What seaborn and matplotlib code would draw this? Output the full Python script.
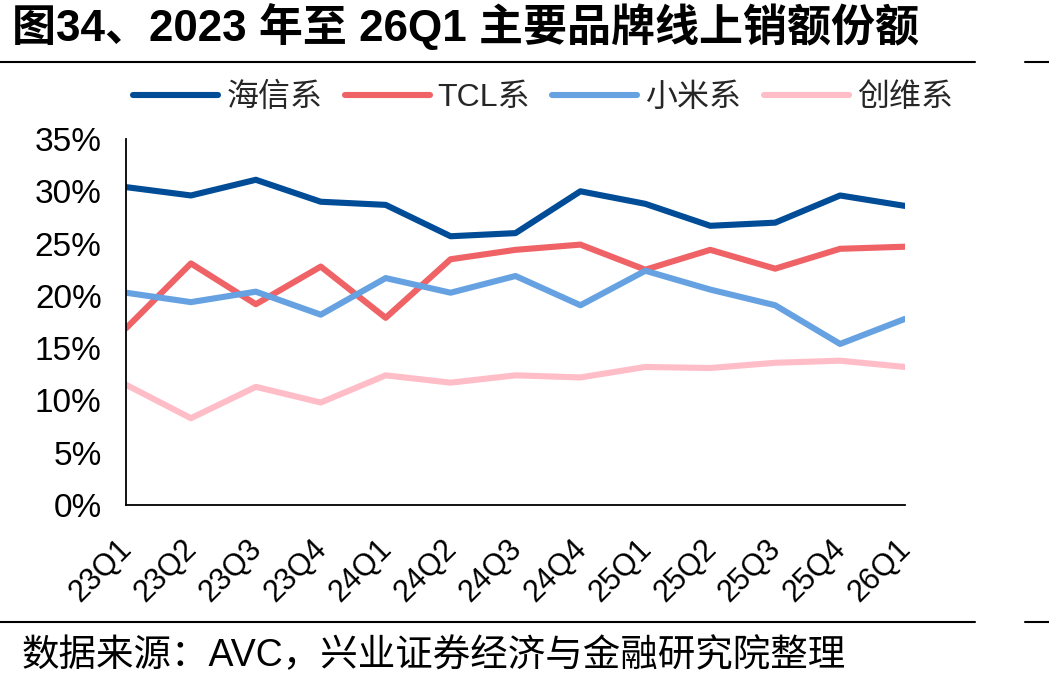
import matplotlib
matplotlib.use("Agg")
import matplotlib.pyplot as plt
import matplotlib.transforms as mtransforms
import seaborn as sns
import pandas as pd
import numpy as np
from matplotlib.ticker import PercentFormatter
from matplotlib.lines import Line2D

quarters = ["23Q1", "23Q2", "23Q3", "23Q4", "24Q1", "24Q2", "24Q3", "24Q4",
            "25Q1", "25Q2", "25Q3", "25Q4", "26Q1"]
hisense = [30.4, 29.6, 31.1, 29.0, 28.7, 25.7, 26.0, 30.0, 28.8, 26.7, 27.0, 29.6, 28.6]
tcl = [16.9, 23.1, 19.2, 22.8, 17.9, 23.5, 24.4, 24.9, 22.5, 24.4, 22.6, 24.5, 24.7]
xiaomi = [20.3, 19.4, 20.4, 18.2, 21.7, 20.3, 21.9, 19.1, 22.4, 20.6, 19.1, 15.4, 17.8]
skyworth = [11.5, 8.3, 11.3, 9.8, 12.4, 11.7, 12.4, 12.2, 13.2, 13.1, 13.6, 13.8, 13.2]
series_names = ["海信系", "TCL系", "小米系", "创维系"]
colors = ["#004C97", "#EF6266", "#66A2E2", "#FFBDC8"]

title = "图34、2023 年至 26Q1 主要品牌线上销额份额"
source = "数据来源：AVC，兴业证券经济与金融研究院整理"

sns.set_theme(style="white")
plt.rcParams["font.family"] = ["Liberation Sans", "Noto Sans CJK SC", "DejaVu Sans"]

rows = []
for name, vals in zip(series_names, [hisense, tcl, xiaomi, skyworth]):
    for i, v in enumerate(vals):
        rows.append({"idx": i, "share": v, "brand": name})
df = pd.DataFrame(rows)

fig = plt.figure(figsize=(10.49, 6.87), dpi=100)
ax = fig.add_axes([126/1049, 1-505/687, (905-126)/1049, (505-139)/687])

sns.lineplot(data=df, x="idx", y="share", hue="brand", hue_order=series_names,
             palette=colors, linewidth=4.4, ax=ax, legend=False, sort=False)

ax.set_xlim(0, len(quarters) - 1)
ax.set_ylim(0, 35)
ax.set_yticks(np.arange(0, 36, 5))
ax.yaxis.set_major_formatter(PercentFormatter(decimals=0))
ax.set_xticks(range(len(quarters)))
ax.set_xticklabels(quarters, rotation=45, ha="right", rotation_mode="anchor")
ax.set_xlabel("")
ax.set_ylabel("")
for s in ["top", "right"]:
    ax.spines[s].set_visible(False)
for s in ["left", "bottom"]:
    ax.spines[s].set_color("black")
    ax.spines[s].set_linewidth(1.3)
ax.tick_params(axis="both", which="both", direction="out", length=6.5, width=1.3,
               color="black", labelsize=24, labelcolor="black")
ax.tick_params(axis="x", labelsize=22, pad=14)
ax.tick_params(axis="y", pad=11)

offset = mtransforms.ScaledTranslation(-9/100, 0, fig.dpi_scale_trans)
for lbl in ax.get_xticklabels():
    lbl.set_transform(lbl.get_transform() + offset)

handles = [Line2D([0], [0], color=c, lw=4.4, solid_capstyle="round") for c in colors]
fig.legend(handles, series_names, loc="center", bbox_to_anchor=(543/1049, 1-98/687),
           ncol=4, frameon=False, fontsize=23, handlelength=2.66, handletextpad=0.25,
           columnspacing=0.7)

fig.text(12/1049, 1-26/687, title, fontsize=31.7, fontweight="bold", va="center", ha="left",
         color="black")
fig.add_artist(Line2D([0, 975/1049], [1-62/687, 1-62/687], color="black", lw=1.5))
fig.add_artist(Line2D([1025/1049, 1], [1-62/687, 1-62/687], color="black", lw=1.5))
fig.add_artist(Line2D([0, 975/1049], [1-622/687, 1-622/687], color="black", lw=1.5))
fig.add_artist(Line2D([1025/1049, 1], [1-622/687, 1-622/687], color="black", lw=1.5))
fig.text(22/1049, 1-656/687, source, fontsize=27, va="center", ha="left", color="black")

fig.savefig("out.png", dpi=100)
